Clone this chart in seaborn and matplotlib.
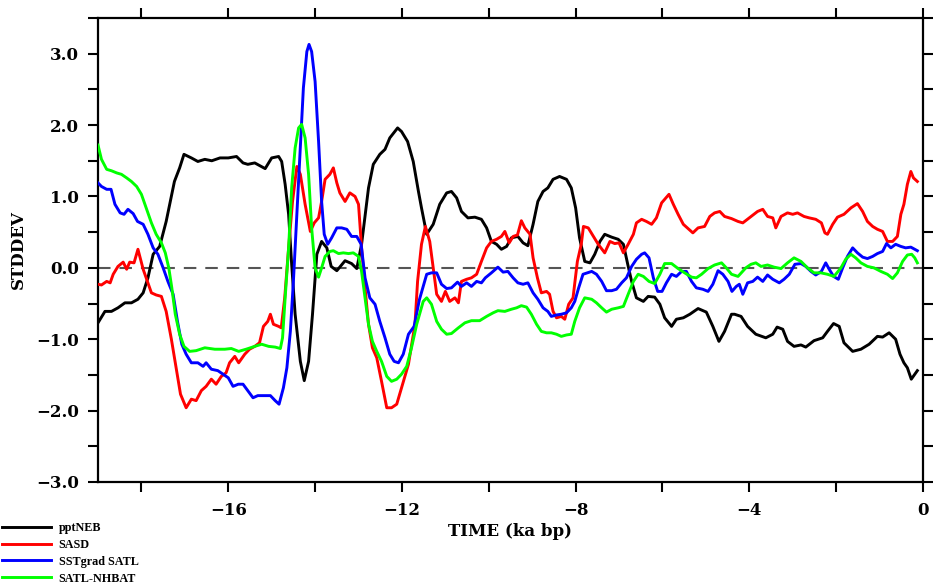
import matplotlib
matplotlib.use("Agg")
import matplotlib.pyplot as plt
from matplotlib.font_manager import FontProperties
from matplotlib.ticker import MultipleLocator, FuncFormatter
import pandas as pd
import seaborn as sns

# (time in ka BP, standardised anomaly)
PPTNEB = [
    (-19.00, -0.77), (-18.84, -0.61), (-18.69, -0.61), (-18.54, -0.56), (-18.38, -0.49),
    (-18.23, -0.49), (-18.08, -0.44), (-17.96, -0.35), (-17.85, -0.14), (-17.73, 0.19),
    (-17.58, 0.30), (-17.43, 0.65), (-17.24, 1.21), (-17.12, 1.40), (-17.02, 1.59),
    (-16.85, 1.54), (-16.70, 1.49), (-16.54, 1.52), (-16.38, 1.50), (-16.19, 1.54),
    (-16.00, 1.54), (-15.81, 1.56), (-15.66, 1.47), (-15.55, 1.45), (-15.39, 1.47),
    (-15.15, 1.39), (-15.00, 1.54), (-14.84, 1.56), (-14.77, 1.49), (-14.69, 1.17),
    (-14.61, 0.75), (-14.54, 0.05), (-14.46, -0.65), (-14.34, -1.31), (-14.25, -1.58),
    (-14.15, -1.31), (-14.06, -0.65), (-13.96, 0.19), (-13.85, 0.37), (-13.73, 0.28),
    (-13.63, 0.02), (-13.50, -0.04), (-13.31, 0.10), (-13.16, 0.06), (-13.04, -0.01),
    (-12.93, 0.33), (-12.77, 1.12), (-12.66, 1.45), (-12.51, 1.59), (-12.39, 1.66),
    (-12.28, 1.82), (-12.10, 1.96), (-12.01, 1.91), (-11.87, 1.77), (-11.74, 1.49),
    (-11.62, 1.07), (-11.55, 0.84), (-11.43, 0.47), (-11.28, 0.61), (-11.13, 0.89),
    (-10.97, 1.05), (-10.86, 1.07), (-10.74, 0.98), (-10.63, 0.79), (-10.48, 0.70),
    (-10.32, 0.71), (-10.17, 0.68), (-10.05, 0.56), (-9.94, 0.37), (-9.82, 0.33),
    (-9.71, 0.26), (-9.59, 0.30), (-9.48, 0.42), (-9.33, 0.44), (-9.21, 0.35),
    (-9.10, 0.31), (-8.98, 0.61), (-8.87, 0.93), (-8.75, 1.07), (-8.64, 1.12),
    (-8.52, 1.24), (-8.37, 1.28), (-8.21, 1.24), (-8.10, 1.12), (-8.00, 0.84),
    (-7.91, 0.42), (-7.79, 0.09), (-7.67, 0.07), (-7.56, 0.19), (-7.44, 0.37),
    (-7.33, 0.47), (-7.17, 0.43), (-7.02, 0.40), (-6.90, 0.33), (-6.80, 0.05),
    (-6.71, -0.19), (-6.60, -0.42), (-6.44, -0.47), (-6.33, -0.40), (-6.18, -0.41),
    (-6.06, -0.51), (-5.95, -0.70), (-5.79, -0.82), (-5.68, -0.72), (-5.52, -0.70),
    (-5.37, -0.65), (-5.18, -0.57), (-4.99, -0.62), (-4.84, -0.82), (-4.70, -1.03),
    (-4.57, -0.89), (-4.41, -0.65), (-4.34, -0.65), (-4.19, -0.68), (-4.04, -0.82),
    (-3.85, -0.93), (-3.62, -0.98), (-3.46, -0.93), (-3.36, -0.83), (-3.23, -0.86),
    (-3.12, -1.03), (-2.97, -1.10), (-2.81, -1.08), (-2.70, -1.11), (-2.51, -1.02),
    (-2.31, -0.98), (-2.20, -0.89), (-2.06, -0.78), (-1.93, -0.82), (-1.82, -1.05),
    (-1.62, -1.17), (-1.43, -1.14), (-1.24, -1.07), (-1.05, -0.96), (-0.93, -0.97),
    (-0.78, -0.91), (-0.63, -1.00), (-0.53, -1.21), (-0.44, -1.33), (-0.36, -1.40),
    (-0.27, -1.56), (-0.19, -1.49), (-0.13, -1.44),
]

SASD = [
    (-19.00, -0.23), (-18.92, -0.24), (-18.80, -0.19), (-18.72, -0.21), (-18.65, -0.09),
    (-18.54, 0.02), (-18.42, 0.08), (-18.34, -0.02), (-18.27, 0.08), (-18.17, 0.07),
    (-18.08, 0.26), (-17.96, -0.02), (-17.89, -0.14), (-17.77, -0.35), (-17.66, -0.38),
    (-17.54, -0.40), (-17.43, -0.61), (-17.31, -1.00), (-17.20, -1.40), (-17.10, -1.77),
    (-16.97, -1.96), (-16.85, -1.84), (-16.74, -1.86), (-16.62, -1.72), (-16.51, -1.66),
    (-16.39, -1.56), (-16.28, -1.63), (-16.16, -1.52), (-16.05, -1.47), (-15.97, -1.33),
    (-15.85, -1.24), (-15.76, -1.33), (-15.62, -1.21), (-15.51, -1.14), (-15.39, -1.10),
    (-15.28, -1.05), (-15.19, -0.82), (-15.09, -0.75), (-15.03, -0.65), (-14.96, -0.79),
    (-14.84, -0.82), (-14.78, -0.84), (-14.70, -0.42), (-14.61, 0.28), (-14.52, 0.93),
    (-14.42, 1.42), (-14.34, 1.31), (-14.23, 0.89), (-14.11, 0.51), (-14.02, 0.63),
    (-13.92, 0.70), (-13.85, 0.93), (-13.77, 1.24), (-13.66, 1.31), (-13.58, 1.40),
    (-13.50, 1.19), (-13.43, 1.05), (-13.31, 0.93), (-13.20, 1.05), (-13.08, 1.00),
    (-13.00, 0.89), (-12.93, 0.28), (-12.85, -0.28), (-12.77, -0.79), (-12.68, -1.12),
    (-12.58, -1.26), (-12.47, -1.59), (-12.35, -1.96), (-12.24, -1.96), (-12.12, -1.91),
    (-12.01, -1.68), (-11.85, -1.35), (-11.70, -0.79), (-11.64, -0.19), (-11.55, 0.33),
    (-11.46, 0.58), (-11.36, 0.37), (-11.28, 0.00), (-11.20, -0.37), (-11.09, -0.47),
    (-11.00, -0.33), (-10.90, -0.47), (-10.78, -0.42), (-10.70, -0.49), (-10.63, -0.19),
    (-10.51, -0.16), (-10.40, -0.14), (-10.28, -0.09), (-10.17, 0.09), (-10.05, 0.28),
    (-9.94, 0.37), (-9.82, 0.40), (-9.71, 0.44), (-9.63, 0.51), (-9.53, 0.35),
    (-9.44, 0.44), (-9.34, 0.46), (-9.25, 0.66), (-9.17, 0.56), (-9.05, 0.47),
    (-8.98, 0.14), (-8.88, -0.14), (-8.79, -0.35), (-8.67, -0.33), (-8.60, -0.37),
    (-8.52, -0.61), (-8.44, -0.70), (-8.33, -0.68), (-8.25, -0.72), (-8.16, -0.51),
    (-8.06, -0.42), (-7.96, 0.09), (-7.87, 0.33), (-7.82, 0.58), (-7.71, 0.56),
    (-7.59, 0.44), (-7.48, 0.33), (-7.33, 0.21), (-7.21, 0.37), (-7.10, 0.34),
    (-7.00, 0.35), (-6.90, 0.21), (-6.79, 0.33), (-6.67, 0.47), (-6.60, 0.63),
    (-6.48, 0.68), (-6.37, 0.65), (-6.25, 0.61), (-6.14, 0.70), (-6.02, 0.91),
    (-5.95, 0.96), (-5.85, 1.03), (-5.75, 0.89), (-5.64, 0.75), (-5.52, 0.61),
    (-5.41, 0.55), (-5.30, 0.49), (-5.18, 0.56), (-5.03, 0.58), (-4.91, 0.72),
    (-4.80, 0.77), (-4.68, 0.79), (-4.57, 0.72), (-4.41, 0.69), (-4.26, 0.65),
    (-4.15, 0.63), (-3.96, 0.72), (-3.81, 0.79), (-3.69, 0.82), (-3.58, 0.72),
    (-3.46, 0.70), (-3.39, 0.56), (-3.27, 0.72), (-3.12, 0.77), (-3.00, 0.75),
    (-2.89, 0.77), (-2.74, 0.72), (-2.62, 0.70), (-2.47, 0.68), (-2.34, 0.63),
    (-2.26, 0.49), (-2.20, 0.47), (-2.08, 0.61), (-1.97, 0.71), (-1.82, 0.75),
    (-1.66, 0.84), (-1.51, 0.90), (-1.39, 0.79), (-1.28, 0.65), (-1.16, 0.58),
    (-1.05, 0.54), (-0.93, 0.51), (-0.82, 0.37), (-0.70, 0.37), (-0.59, 0.44),
    (-0.51, 0.75), (-0.44, 0.89), (-0.36, 1.17), (-0.28, 1.35), (-0.22, 1.26),
    (-0.13, 1.21),
]

SSTGRAD_SATL = [
    (-19.00, 1.19), (-18.92, 1.14), (-18.80, 1.10), (-18.70, 1.10), (-18.61, 0.89),
    (-18.49, 0.77), (-18.40, 0.75), (-18.31, 0.82), (-18.19, 0.76), (-18.09, 0.65),
    (-17.96, 0.61), (-17.85, 0.47), (-17.73, 0.28), (-17.62, 0.19), (-17.50, 0.00),
    (-17.39, -0.19), (-17.27, -0.37), (-17.17, -0.75), (-17.07, -1.07), (-16.97, -1.21),
    (-16.85, -1.33), (-16.70, -1.33), (-16.58, -1.38), (-16.51, -1.33), (-16.39, -1.42),
    (-16.24, -1.44), (-16.12, -1.49), (-16.00, -1.54), (-15.89, -1.66), (-15.77, -1.63),
    (-15.66, -1.63), (-15.55, -1.72), (-15.43, -1.82), (-15.32, -1.79), (-15.26, -1.79),
    (-15.15, -1.79), (-15.03, -1.79), (-14.92, -1.86), (-14.83, -1.91), (-14.73, -1.68),
    (-14.65, -1.40), (-14.57, -0.89), (-14.50, -0.19), (-14.42, 0.75), (-14.34, 1.68),
    (-14.27, 2.52), (-14.19, 3.03), (-14.14, 3.13), (-14.08, 3.03), (-14.00, 2.61),
    (-13.92, 1.77), (-13.85, 0.93), (-13.79, 0.47), (-13.71, 0.33), (-13.62, 0.42),
    (-13.50, 0.56), (-13.39, 0.56), (-13.27, 0.54), (-13.16, 0.44), (-13.04, 0.44),
    (-12.94, 0.33), (-12.85, -0.14), (-12.74, -0.42), (-12.62, -0.51), (-12.51, -0.75),
    (-12.39, -0.98), (-12.28, -1.21), (-12.18, -1.31), (-12.08, -1.33), (-11.97, -1.21),
    (-11.85, -0.93), (-11.72, -0.82), (-11.60, -0.45), (-11.43, -0.09), (-11.32, -0.07),
    (-11.20, -0.07), (-11.09, -0.23), (-10.97, -0.29), (-10.86, -0.28), (-10.72, -0.20),
    (-10.63, -0.26), (-10.51, -0.21), (-10.40, -0.26), (-10.28, -0.19), (-10.17, -0.21),
    (-10.08, -0.14), (-9.94, -0.07), (-9.79, 0.01), (-9.67, -0.06), (-9.56, -0.05),
    (-9.44, -0.14), (-9.33, -0.21), (-9.21, -0.23), (-9.10, -0.21), (-8.98, -0.35),
    (-8.87, -0.44), (-8.75, -0.56), (-8.64, -0.61), (-8.56, -0.68), (-8.44, -0.66),
    (-8.33, -0.65), (-8.21, -0.63), (-8.10, -0.56), (-8.02, -0.47), (-7.93, -0.28),
    (-7.83, -0.09), (-7.63, -0.05), (-7.52, -0.09), (-7.40, -0.19), (-7.29, -0.32),
    (-7.17, -0.32), (-7.06, -0.30), (-6.94, -0.21), (-6.83, -0.14), (-6.71, 0.02),
    (-6.60, 0.12), (-6.48, 0.19), (-6.41, 0.21), (-6.31, 0.14), (-6.21, -0.14),
    (-6.11, -0.33), (-6.01, -0.33), (-5.91, -0.21), (-5.79, -0.09), (-5.68, -0.12),
    (-5.56, -0.05), (-5.45, -0.05), (-5.33, -0.19), (-5.22, -0.28), (-5.07, -0.30),
    (-4.95, -0.33), (-4.84, -0.23), (-4.72, -0.04), (-4.61, -0.09), (-4.49, -0.19),
    (-4.40, -0.33), (-4.30, -0.26), (-4.23, -0.23), (-4.15, -0.37), (-4.04, -0.21),
    (-3.92, -0.19), (-3.81, -0.13), (-3.69, -0.19), (-3.58, -0.10), (-3.46, -0.16),
    (-3.31, -0.21), (-3.20, -0.16), (-3.08, -0.09), (-2.95, 0.05), (-2.81, 0.06),
    (-2.70, 0.02), (-2.58, -0.05), (-2.47, -0.10), (-2.34, -0.05), (-2.24, 0.07),
    (-2.16, -0.02), (-2.06, -0.12), (-1.95, -0.16), (-1.85, 0.00), (-1.74, 0.16),
    (-1.62, 0.28), (-1.51, 0.21), (-1.39, 0.15), (-1.28, 0.13), (-1.16, 0.16),
    (-1.05, 0.20), (-0.93, 0.23), (-0.84, 0.34), (-0.74, 0.28), (-0.63, 0.33),
    (-0.51, 0.30), (-0.40, 0.28), (-0.28, 0.29), (-0.13, 0.24),
]

SATL_NHBAT = [
    (-19.00, 1.72), (-18.92, 1.52), (-18.80, 1.38), (-18.69, 1.36), (-18.57, 1.33),
    (-18.46, 1.31), (-18.34, 1.26), (-18.23, 1.21), (-18.11, 1.14), (-18.00, 1.03),
    (-17.89, 0.84), (-17.77, 0.63), (-17.66, 0.47), (-17.54, 0.35), (-17.45, 0.21),
    (-17.37, 0.00), (-17.30, -0.28), (-17.22, -0.65), (-17.12, -0.93), (-17.02, -1.10),
    (-16.89, -1.17), (-16.74, -1.16), (-16.54, -1.12), (-16.31, -1.14), (-16.08, -1.14),
    (-15.93, -1.13), (-15.76, -1.17), (-15.59, -1.14), (-15.39, -1.10), (-15.23, -1.07),
    (-15.07, -1.10), (-14.92, -1.11), (-14.80, -1.13), (-14.75, -0.98), (-14.69, -0.42),
    (-14.61, 0.28), (-14.54, 1.12), (-14.46, 1.68), (-14.38, 1.96), (-14.31, 2.01),
    (-14.23, 1.82), (-14.15, 1.31), (-14.08, 0.56), (-14.00, 0.00), (-13.92, -0.13),
    (-13.85, 0.00), (-13.77, 0.16), (-13.66, 0.23), (-13.58, 0.24), (-13.46, 0.20),
    (-13.35, 0.21), (-13.23, 0.20), (-13.12, 0.21), (-13.00, 0.16), (-12.93, -0.05),
    (-12.85, -0.42), (-12.77, -0.79), (-12.68, -1.03), (-12.58, -1.17), (-12.47, -1.31),
    (-12.35, -1.52), (-12.24, -1.59), (-12.12, -1.56), (-12.01, -1.49), (-11.89, -1.38),
    (-11.78, -1.12), (-11.66, -0.79), (-11.51, -0.47), (-11.43, -0.42), (-11.32, -0.51),
    (-11.20, -0.75), (-11.09, -0.86), (-10.97, -0.93), (-10.86, -0.92), (-10.70, -0.84),
    (-10.55, -0.77), (-10.40, -0.74), (-10.21, -0.74), (-10.05, -0.68), (-9.90, -0.63),
    (-9.79, -0.60), (-9.63, -0.61), (-9.48, -0.58), (-9.36, -0.56), (-9.25, -0.53),
    (-9.13, -0.55), (-9.02, -0.65), (-8.90, -0.79), (-8.79, -0.89), (-8.67, -0.91),
    (-8.56, -0.91), (-8.44, -0.93), (-8.33, -0.96), (-8.21, -0.94), (-8.10, -0.93),
    (-8.02, -0.75), (-7.91, -0.56), (-7.79, -0.42), (-7.63, -0.44), (-7.52, -0.49),
    (-7.40, -0.56), (-7.29, -0.62), (-7.17, -0.58), (-7.02, -0.56), (-6.90, -0.54),
    (-6.79, -0.37), (-6.67, -0.19), (-6.56, -0.09), (-6.44, -0.12), (-6.31, -0.19),
    (-6.18, -0.22), (-6.06, -0.09), (-5.95, 0.06), (-5.79, 0.06), (-5.64, -0.01),
    (-5.49, -0.07), (-5.33, -0.13), (-5.22, -0.14), (-5.10, -0.09), (-4.95, -0.01),
    (-4.80, 0.04), (-4.64, 0.07), (-4.53, 0.00), (-4.41, -0.09), (-4.26, -0.12),
    (-4.08, 0.00), (-3.96, 0.05), (-3.85, 0.07), (-3.73, 0.02), (-3.58, 0.04),
    (-3.43, 0.01), (-3.27, -0.01), (-3.12, 0.07), (-2.97, 0.14), (-2.81, 0.09),
    (-2.66, 0.00), (-2.51, -0.07), (-2.35, -0.07), (-2.20, -0.09), (-2.05, -0.12),
    (-1.89, 0.00), (-1.78, 0.12), (-1.66, 0.19), (-1.55, 0.14), (-1.43, 0.07),
    (-1.28, 0.02), (-1.13, 0.00), (-0.97, -0.05), (-0.82, -0.09), (-0.70, -0.15),
    (-0.59, -0.07), (-0.47, 0.09), (-0.36, 0.18), (-0.26, 0.19), (-0.19, 0.14),
    (-0.13, 0.07),
]

SERIES_NAMES = ["pptNEB", "SASD", "SSTgrad SATL", "SATL-NHBAT"]
SERIES_DATA = [PPTNEB, SASD, SSTGRAD_SATL, SATL_NHBAT]
SERIES_COLORS = ["#000000", "#ff0000", "#0000ff", "#00ff00"]

X_RANGE = (-19, 0)
Y_RANGE = (-3.0, 3.5)

df = pd.concat(
    [pd.DataFrame(d, columns=["time", "value"]).assign(series=n)
     for n, d in zip(SERIES_NAMES, SERIES_DATA)],
    ignore_index=True,
)

plt.rcParams["font.family"] = ["DejaVu Serif"]
plt.rcParams["font.weight"] = "bold"
plt.rcParams["axes.labelweight"] = "bold"

W, H = 933, 585
fig = plt.figure(figsize=(W / 100, H / 100), dpi=100)
ax = fig.add_axes([98 / W, 1 - 482 / H, (923 - 98) / W, (482 - 18) / H])

ax.axhline(0, color="#555555", lw=1.5, ls=(0, (6, 4.3)), zorder=1)

sns.lineplot(
    data=df, x="time", y="value", hue="series", hue_order=SERIES_NAMES,
    palette=dict(zip(SERIES_NAMES, SERIES_COLORS)), estimator=None, sort=False,
    linewidth=2.1, ax=ax, zorder=3,
)

ax.set_xlim(*X_RANGE)
ax.set_ylim(*Y_RANGE)


def xfmt(v, _):
    r = round(v)
    if abs(v - r) < 1e-6 and r % 4 == 0:
        return f"{r:d}".replace("-", "\u2212")
    return ""


def yfmt(v, _):
    r = round(v)
    if abs(v - r) < 1e-6:
        return f"{v:.1f}".replace("-", "\u2212")
    return ""


ax.xaxis.set_major_locator(MultipleLocator(2))
ax.xaxis.set_major_formatter(FuncFormatter(xfmt))
ax.yaxis.set_major_locator(MultipleLocator(0.5))
ax.yaxis.set_major_formatter(FuncFormatter(yfmt))

ax.tick_params(direction="out", length=7.5, width=1.5, top=True, right=True,
               labeltop=False, labelright=False, labelsize=12)
ax.tick_params(axis="x", pad=7)
ax.tick_params(axis="y", pad=6)
for s in ax.spines.values():
    s.set_linewidth(1.6)

ax.set_xlabel("TIME (ka bp)", fontsize=12, labelpad=3)
ax.set_ylabel("STDDEV", fontsize=12, labelpad=7)

handles, labels = ax.get_legend_handles_labels()
ax.get_legend().remove()
fig.legend(
    handles, labels, loc="upper left", bbox_to_anchor=(0.002, 1 - 522 / H),
    frameon=False, prop=FontProperties(family="Liberation Serif", weight="bold", size=8.7),
    handlelength=4.1, handletextpad=0.6, labelspacing=0.4, borderpad=0, borderaxespad=0,
)

fig.savefig("out.png", dpi=100)
